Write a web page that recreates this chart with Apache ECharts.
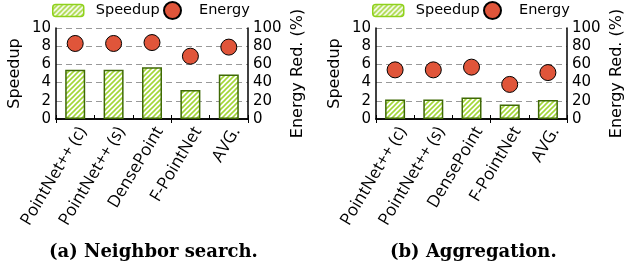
<!DOCTYPE html>
<html><head><meta charset="utf-8">
<script src="https://cdn.jsdelivr.net/npm/echarts@6/dist/echarts.min.js"></script>
<style>html,body{margin:0;padding:0;background:#fff}#c{width:626px;height:268px}</style>
</head><body><div id="c"></div>
<script>
const categories = ['PointNet++ (c)', 'PointNet++ (s)', 'DensePoint', 'F-PointNet', 'AVG.'];
const speedupNeighbor = [5.4, 5.4, 5.7, 3.2, 4.9];
const energyNeighbor = [83, 83, 84, 69, 79];
const speedupAggregation = [2.15, 2.15, 2.35, 1.6, 2.1];
const energyAggregation = [54, 54, 57, 38, 51];
const speedupTicks = [0, 2, 4, 6, 8, 10];
const energyTicks = [0, 20, 40, 60, 80, 100];
const titles = ['(a) Neighbor search.', '(b) Aggregation.'];
const seriesNames = ['Speedup', 'Energy'];
const axisNames = ['Speedup', 'Energy Red. (%)'];

function hatch() {
  const s = 5, c = document.createElement('canvas');
  c.width = s; c.height = s;
  const g = c.getContext('2d');
  g.fillStyle = '#fff'; g.fillRect(0, 0, s, s);
  g.strokeStyle = '#a3d638'; g.lineWidth = 1.6;
  g.beginPath();
  g.moveTo(0, s); g.lineTo(s, 0);
  g.moveTo(-1, 1); g.lineTo(1, -1);
  g.moveTo(s - 1, s + 1); g.lineTo(s + 1, s - 1);
  g.stroke();
  return c;
}
const hatchFill = { image: hatch(), repeat: 'repeat' };
const dotColor = '#e0553a';
const font = 'DejaVu Sans';

const grids = [
  { left: 56, top: 28, width: 192, height: 91 },
  { left: 376, top: 28, width: 193, height: 91 }
];

const xAxes = [], yAxes = [], series = [], legends = [], titleArr = [];
const speedData = [speedupNeighbor, speedupAggregation];
const energyData = [energyNeighbor, energyAggregation];
const legendX = [52, 372];
const titleX = [49, 390];

grids.forEach((g, i) => {
  const axisLine = { show: true, lineStyle: { color: '#000', width: 1.5 } };
  xAxes.push({
    type: 'category', gridIndex: i, position: 'bottom', data: categories,
    axisLine, axisTick: { show: true, inside: true, length: 4, lineStyle: { color: '#000', width: 1 } },
    axisLabel: { rotate: 59, fontSize: 17, fontFamily: 'Open Sans', color: '#000', margin: 5, verticalAlign: 'top' }
  });
  xAxes.push({
    type: 'category', gridIndex: i, position: 'top', data: categories,
    axisLine, axisTick: { show: true, inside: true, length: 4, lineStyle: { color: '#000', width: 1 } },
    axisLabel: { show: false }
  });
  yAxes.push({
    type: 'value', gridIndex: i, position: 'left',
    min: speedupTicks[0], max: speedupTicks[speedupTicks.length - 1], interval: speedupTicks[1] - speedupTicks[0],
    axisLine, axisTick: { show: false },
    splitLine: { show: true, lineStyle: { color: '#999', type: [6, 4], width: 1 } },
    axisLabel: { fontSize: 15, fontFamily: font, color: '#000', margin: 5 },
    name: axisNames[0], nameLocation: 'middle', nameGap: 33,
    nameTextStyle: { fontSize: 16, fontFamily: font, color: '#000' }
  });
  yAxes.push({
    type: 'value', gridIndex: i, position: 'right',
    min: energyTicks[0], max: energyTicks[energyTicks.length - 1], interval: energyTicks[1] - energyTicks[0],
    axisLine, axisTick: { show: false }, splitLine: { show: false },
    axisLabel: { fontSize: 15, fontFamily: font, color: '#000', margin: 5 },
    name: axisNames[1], nameLocation: 'middle', nameGap: 42,
    nameTextStyle: { fontSize: 16, fontFamily: font, color: '#000' }
  });
  series.push({
    type: 'bar', name: seriesNames[0], xAxisIndex: 2 * i, yAxisIndex: 2 * i,
    data: speedData[i], barWidth: 20,
    itemStyle: { color: hatchFill, borderColor: '#3f6a05', borderWidth: 1.5 }
  });
  series.push({
    type: 'scatter', name: seriesNames[1], xAxisIndex: 2 * i, yAxisIndex: 2 * i + 1,
    data: energyData[i], symbolSize: 16, z: 5,
    itemStyle: { color: dotColor, borderColor: '#000', borderWidth: 1, opacity: 1 }
  });
  legends.push({
    data: [{ name: seriesNames[0], itemStyle: { borderColor: '#8fd11c', borderWidth: 1.5 } }],
    left: legendX[i], top: 3, itemWidth: 31, itemHeight: 12, padding: 0,
    textStyle: { fontSize: 14.5, fontFamily: font, color: '#000', padding: [0, 0, 0, 7] }
  });
  legends.push({
    data: [seriesNames[1]],
    left: legendX[i] + 111, top: 1, itemWidth: 17, itemHeight: 17, padding: 0,
    textStyle: { fontSize: 14.5, fontFamily: font, color: '#000', padding: [0, 0, 0, 13] }
  });
  titleArr.push({
    text: titles[i], left: titleX[i], top: 243, padding: 0,
    textStyle: { fontFamily: 'DejaVu Serif', fontWeight: 'bold', fontSize: 18, color: '#000' }
  });
});

const chart = echarts.init(document.getElementById('c'), null, { renderer: 'canvas' });
chart.setOption({
  animation: false,
  backgroundColor: '#fff',
  title: titleArr,
  legend: legends,
  grid: grids,
  xAxis: xAxes,
  yAxis: yAxes,
  series
});
</script>
</body></html>
